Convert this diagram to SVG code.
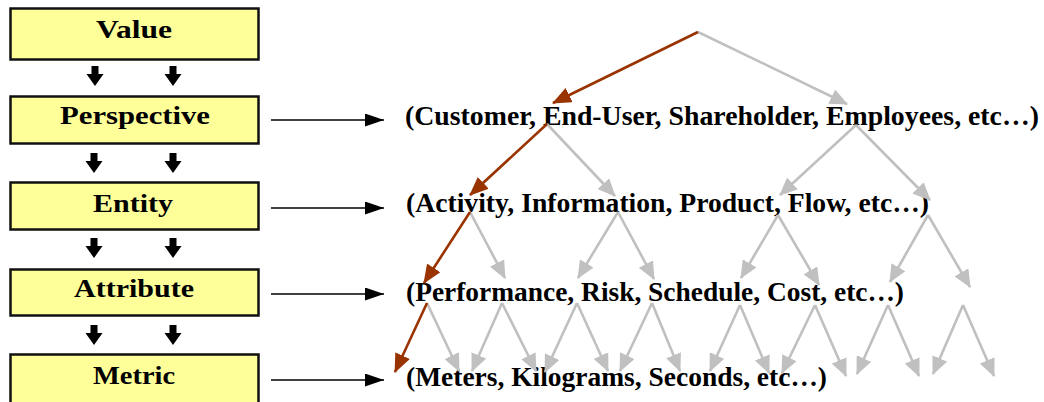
<svg xmlns="http://www.w3.org/2000/svg" width="1044" height="402" viewBox="0 0 1044 402">
<defs>
<style>
.box{fill:#FFFF99;stroke:#111;stroke-width:2.5}
.lbl{font-family:"Liberation Serif","Times New Roman",serif;font-weight:bold;font-size:26px;fill:#000;text-anchor:middle}
.txt{font-family:"Liberation Serif","Times New Roman",serif;font-weight:bold;font-size:27px;fill:#000}
.blk{fill:#000}
.hz{stroke:#000;stroke-width:1.6;fill:none;marker-end:url(#hb)}
.g{stroke:#C0C0C0;stroke-width:2.6;fill:none;marker-end:url(#hg)}
.r{stroke:#993300;stroke-width:2.6;fill:none;marker-end:url(#hr)}
</style>
<marker id="hb" markerUnits="userSpaceOnUse" markerWidth="19" markerHeight="13" refX="19" refY="6.5" orient="auto"><path d="M0,0 L19,6.5 L0,13 z" fill="#000"/></marker>
<marker id="hg" markerUnits="userSpaceOnUse" markerWidth="18" markerHeight="16" refX="17" refY="8" orient="auto"><path d="M0,0 L18,8 L0,16 z" fill="#C0C0C0"/></marker>
<marker id="hr" markerUnits="userSpaceOnUse" markerWidth="19" markerHeight="16" refX="18" refY="8" orient="auto"><path d="M0,0 L19,8 L0,16 z" fill="#993300"/></marker>
<path id="da" d="M-3.5,0 H3.5 V8 H8.5 L0,20 L-8.5,8 H-3.5 z"/>
</defs>
<g id="node-value"><rect class="box" x="10.5" y="8.5" width="248" height="51"/><text class="lbl" x="134" y="38" textLength="76" lengthAdjust="spacingAndGlyphs">Value</text></g>
<g id="node-perspective"><rect class="box" x="10.5" y="96.5" width="248" height="47"/><text class="lbl" x="135" y="124" textLength="150" lengthAdjust="spacingAndGlyphs">Perspective</text></g>
<g id="node-entity"><rect class="box" x="10.5" y="182.5" width="248" height="47"/><text class="lbl" x="133" y="212" textLength="80" lengthAdjust="spacingAndGlyphs">Entity</text></g>
<g id="node-attribute"><rect class="box" x="10.5" y="269.5" width="248" height="46"/><text class="lbl" x="134" y="297" textLength="120" lengthAdjust="spacingAndGlyphs">Attribute</text></g>
<g id="node-metric"><rect class="box" x="10.5" y="354.5" width="248" height="50"/><text class="lbl" x="134" y="384" textLength="82" lengthAdjust="spacingAndGlyphs">Metric</text></g>
<g id="node-perspective-list"><text class="txt" x="405" y="125" textLength="634" lengthAdjust="spacingAndGlyphs">(Customer, End-User, Shareholder, Employees, etc…)</text></g>
<g id="node-entity-list"><text class="txt" x="406" y="212" textLength="523" lengthAdjust="spacingAndGlyphs">(Activity, Information, Product, Flow, etc…)</text></g>
<g id="node-attribute-list"><text class="txt" x="406" y="301" textLength="498" lengthAdjust="spacingAndGlyphs">(Performance, Risk, Schedule, Cost, etc…)</text></g>
<g id="node-metric-list"><text class="txt" x="406" y="386" textLength="421" lengthAdjust="spacingAndGlyphs">(Meters, Kilograms, Seconds, etc…)</text></g>
<g id="connectors">
<use href="#da" class="blk" x="95" y="66"/><use href="#da" class="blk" x="173" y="66"/>
<use href="#da" class="blk" x="94" y="153"/><use href="#da" class="blk" x="173" y="153"/>
<use href="#da" class="blk" x="94" y="238"/><use href="#da" class="blk" x="173" y="238"/>
<use href="#da" class="blk" x="94" y="325"/><use href="#da" class="blk" x="173" y="325"/>
<line class="hz" x1="271" y1="120" x2="384" y2="120"/>
<line class="hz" x1="271" y1="208" x2="384" y2="208"/>
<line class="hz" x1="271" y1="294" x2="384" y2="294"/>
<line class="hz" x1="271" y1="380" x2="384" y2="380"/>
<line class="g" x1="698" y1="32" x2="847" y2="104"/>
<line class="g" x1="547" y1="124" x2="615" y2="196"/>
<line class="g" x1="856" y1="125" x2="780" y2="195"/>
<line class="g" x1="856" y1="125" x2="930" y2="200"/>
<line class="g" x1="470" y1="212" x2="505" y2="278"/>
<line class="g" x1="618" y1="212" x2="578" y2="278"/>
<line class="g" x1="618" y1="212" x2="654" y2="279"/>
<line class="g" x1="778" y1="215" x2="741" y2="278"/>
<line class="g" x1="778" y1="215" x2="819" y2="285"/>
<line class="g" x1="928" y1="215" x2="890" y2="282"/>
<line class="g" x1="928" y1="215" x2="970" y2="287"/>
<line class="g" x1="427" y1="303" x2="459" y2="371"/>
<line class="g" x1="502" y1="303" x2="472" y2="371"/>
<line class="g" x1="502" y1="303" x2="536" y2="371"/>
<line class="g" x1="577" y1="303" x2="545" y2="372"/>
<line class="g" x1="577" y1="303" x2="608" y2="371"/>
<line class="g" x1="652" y1="303" x2="620" y2="371"/>
<line class="g" x1="652" y1="303" x2="680" y2="371"/>
<line class="g" x1="740" y1="305" x2="710" y2="371"/>
<line class="g" x1="740" y1="305" x2="769" y2="373"/>
<line class="g" x1="815" y1="305" x2="782" y2="373"/>
<line class="g" x1="815" y1="305" x2="846" y2="376"/>
<line class="g" x1="888" y1="305" x2="857" y2="374"/>
<line class="g" x1="888" y1="305" x2="919" y2="376"/>
<line class="g" x1="963" y1="305" x2="933" y2="374"/>
<line class="g" x1="963" y1="305" x2="994" y2="376"/>
<line class="r" x1="698" y1="32" x2="553" y2="103"/>
<line class="r" x1="547" y1="124" x2="470" y2="195"/>
<line class="r" x1="470" y1="212" x2="424" y2="283"/>
<line class="r" x1="427" y1="303" x2="395" y2="372"/>
</g>
</svg>
